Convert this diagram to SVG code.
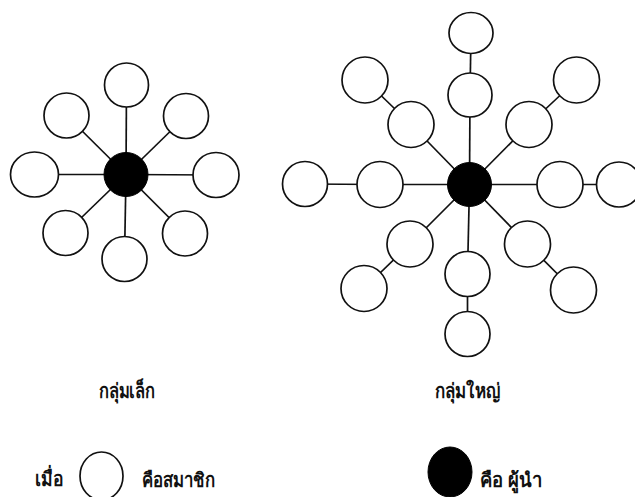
<svg xmlns="http://www.w3.org/2000/svg" width="635" height="497" viewBox="0 0 635 497">
<style>
.m{fill:#fff;stroke:#111;stroke-width:1.7}
.l{fill:#000;stroke:#000}
.c line{stroke:#111;stroke-width:1.7}
text{font-family:"Noto Sans","DejaVu Sans",sans-serif;font-size:20px;font-weight:bold;fill:#111}
</style>
<rect width="635" height="497" fill="#fff"/>
<g class="c" id="connectors">
<line x1="126" y1="174.5" x2="126.5" y2="85"/>
<line x1="126" y1="174.5" x2="66.5" y2="115.5"/>
<line x1="126" y1="174.5" x2="186" y2="116"/>
<line x1="126" y1="174.5" x2="34.5" y2="174.5"/>
<line x1="126" y1="174.5" x2="216" y2="175"/>
<line x1="126" y1="174.5" x2="65.5" y2="233"/>
<line x1="126" y1="174.5" x2="185" y2="233.5"/>
<line x1="126" y1="174.5" x2="124.5" y2="259"/>
<line x1="469.5" y1="184.5" x2="470" y2="95"/>
<line x1="470" y1="95" x2="471" y2="33"/>
<line x1="469.5" y1="184.5" x2="411" y2="124.5"/>
<line x1="411" y1="124.5" x2="365" y2="80"/>
<line x1="469.5" y1="184.5" x2="529" y2="124.5"/>
<line x1="529" y1="124.5" x2="576.5" y2="80"/>
<line x1="469.5" y1="184.5" x2="380" y2="184.5"/>
<line x1="380" y1="184.5" x2="305" y2="184"/>
<line x1="469.5" y1="184.5" x2="560" y2="184.5"/>
<line x1="560" y1="184.5" x2="619" y2="184.5"/>
<line x1="469.5" y1="184.5" x2="410" y2="244"/>
<line x1="410" y1="244" x2="364" y2="288.5"/>
<line x1="469.5" y1="184.5" x2="467.5" y2="274"/>
<line x1="467.5" y1="274" x2="467.5" y2="334"/>
<line x1="469.5" y1="184.5" x2="527.5" y2="244"/>
<line x1="527.5" y1="244" x2="573.5" y2="290"/>
</g>
<g id="small-leader"><circle class="l" cx="126" cy="174.5" r="22"/></g>
<g id="s1"><circle class="m" cx="126.5" cy="85" r="22"/></g>
<g id="s2"><circle class="m" cx="66.5" cy="115.5" r="22.5"/></g>
<g id="s3"><circle class="m" cx="186" cy="116" r="22.5"/></g>
<g id="s4"><ellipse class="m" cx="34.5" cy="174.5" rx="24" ry="22.5"/></g>
<g id="s5"><ellipse class="m" cx="216" cy="175" rx="23" ry="22.5"/></g>
<g id="s6"><circle class="m" cx="65.5" cy="233" r="22.5"/></g>
<g id="s7"><circle class="m" cx="185" cy="233.5" r="22.5"/></g>
<g id="s8"><circle class="m" cx="124.5" cy="259" r="22.5"/></g>
<g id="large-leader"><circle class="l" cx="469.5" cy="184.5" r="22"/></g>
<g id="b1"><circle class="m" cx="470" cy="95" r="22"/></g>
<g id="b2"><ellipse class="m" cx="471" cy="33" rx="22" ry="20.5"/></g>
<g id="b3"><circle class="m" cx="411" cy="124.5" r="23"/></g>
<g id="b4"><circle class="m" cx="365" cy="80" r="23"/></g>
<g id="b5"><circle class="m" cx="529" cy="124.5" r="23"/></g>
<g id="b6"><circle class="m" cx="576.5" cy="80" r="23"/></g>
<g id="b7"><circle class="m" cx="380" cy="184.5" r="23"/></g>
<g id="b8"><circle class="m" cx="305" cy="184" r="22.5"/></g>
<g id="b9"><circle class="m" cx="560" cy="184.5" r="23"/></g>
<g id="b10"><circle class="m" cx="619" cy="184.5" r="22.5"/></g>
<g id="b11"><circle class="m" cx="410" cy="244" r="23"/></g>
<g id="b12"><circle class="m" cx="364" cy="288.5" r="23"/></g>
<g id="b13"><circle class="m" cx="467.5" cy="274" r="22.5"/></g>
<g id="b14"><circle class="m" cx="467.5" cy="334" r="22.5"/></g>
<g id="b15"><circle class="m" cx="527.5" cy="244" r="23"/></g>
<g id="b16"><circle class="m" cx="573.5" cy="290" r="23"/></g>
<g id="labels">
<text x="99" y="398" textLength="56" lengthAdjust="spacingAndGlyphs">กลุ่มเล็ก</text>
<text x="435" y="398" textLength="65" lengthAdjust="spacingAndGlyphs">กลุ่มใหญ่</text>
</g>
<g id="legend-member">
<text x="35" y="486" textLength="28" lengthAdjust="spacingAndGlyphs">เมื่อ</text>
<ellipse class="m" cx="101.5" cy="476" rx="21.5" ry="24"/>
<text x="142" y="487" textLength="73" lengthAdjust="spacingAndGlyphs">คือสมาชิก</text>
</g>
<g id="legend-leader">
<ellipse class="l" cx="450" cy="472" rx="22" ry="25"/>
<text x="480" y="487" textLength="62" lengthAdjust="spacingAndGlyphs">คือ ผู้นำ</text>
</g>
</svg>
